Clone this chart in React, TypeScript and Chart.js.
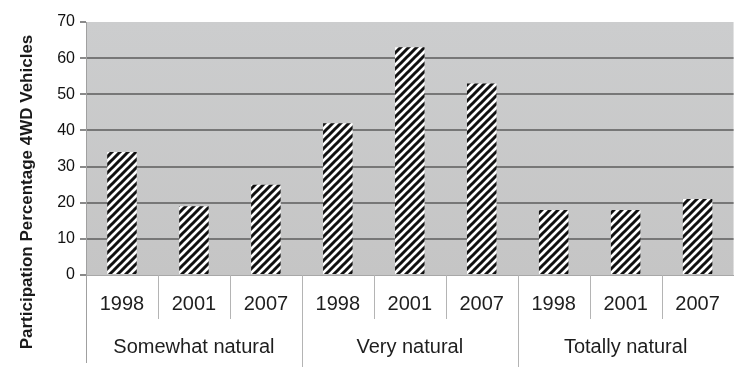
import { useEffect, useRef } from 'react';
import { Chart, registerables } from 'chart.js';

Chart.register(...registerables);

const groups = ['Somewhat natural', 'Very natural', 'Totally natural'];
const years = ['1998', '2001', '2007'];
const values = [34, 19, 25, 42, 63, 53, 18, 18, 21];
const yMin = 0;
const yMax = 70;
const yStep = 10;
const yTitle = 'Participation Percentage 4WD Vehicles';

const FONT = '"Liberation Sans", Arial, sans-serif';

function makeHatch(): CanvasPattern | string {
  const s = 8;
  const c = document.createElement('canvas');
  c.width = s;
  c.height = s;
  const g = c.getContext('2d');
  if (!g) return '#333';
  g.fillStyle = '#ffffff';
  g.fillRect(0, 0, s, s);
  g.strokeStyle = '#111111';
  g.lineWidth = 3;
  g.beginPath();
  g.moveTo(-s, 2 * s);
  g.lineTo(2 * s, -s);
  g.moveTo(-s, s);
  g.lineTo(s, -s);
  g.moveTo(0, 2 * s);
  g.lineTo(2 * s, 0);
  g.stroke();
  const p = g.createPattern(c, 'repeat');
  return p || '#333';
}

const decorPlugin = {
  id: 'decor',
  beforeDraw(chart: any) {
    const { ctx, chartArea } = chart;
    const { left, top, right, bottom } = chartArea;
    ctx.save();
    const grad = ctx.createLinearGradient(0, top, 0, bottom);
    grad.addColorStop(0, '#cccdce');
    grad.addColorStop(1, '#c5c5c5');
    ctx.fillStyle = grad;
    ctx.fillRect(left, top, right - left, bottom - top);
    ctx.restore();
  },
  afterDraw(chart: any) {
    const { ctx, chartArea } = chart;
    const xs = chart.scales.x;
    const { left, right, bottom } = chartArea;
    const n = values.length;
    const boundary = (i: number) => {
      if (i <= 0) return left;
      if (i >= n) return right;
      return (xs.getPixelForValue(i - 1) + xs.getPixelForValue(i)) / 2;
    };
    ctx.save();
    ctx.strokeStyle = '#b4b4b4';
    ctx.lineWidth = 1;
    for (let i = 1; i < n; i++) {
      const x = Math.round(boundary(i)) + 0.5;
      const isGroup = i % years.length === 0;
      ctx.beginPath();
      ctx.moveTo(x, bottom);
      ctx.lineTo(x, isGroup ? bottom + 92 : bottom + 44);
      ctx.stroke();
    }
    // left axis extension
    ctx.strokeStyle = '#a0a0a0';
    ctx.beginPath();
    ctx.moveTo(Math.round(left) + 0.5, bottom);
    ctx.lineTo(Math.round(left) + 0.5, bottom + 88);
    ctx.stroke();

    // group labels
    ctx.fillStyle = '#1e1e1e';
    ctx.font = `20px ${FONT}`;
    ctx.textAlign = 'center';
    ctx.textBaseline = 'middle';
    groups.forEach((g, gi) => {
      const a = xs.getPixelForValue(gi * years.length);
      const b = xs.getPixelForValue(gi * years.length + years.length - 1);
      ctx.fillText(g, (a + b) / 2, bottom + 72);
    });

    // y title
    ctx.translate(27, 192);
    ctx.rotate(-Math.PI / 2);
    ctx.font = `bold 17px ${FONT}`;
    ctx.fillStyle = '#1a1a1a';
    ctx.fillText(yTitle, 0, 0);
    ctx.restore();
  },
};

export default function App() {
  const ref = useRef<HTMLCanvasElement>(null);
  useEffect(() => {
    document.body.style.margin = '0';
    document.body.style.overflow = 'hidden';
    const canvas = ref.current;
    if (!canvas) return;
    const labels = groups.flatMap(() => years);
    const chart = new Chart(canvas, {
      type: 'bar',
      data: {
        labels,
        datasets: [
          {
            data: values,
            backgroundColor: makeHatch() as any,
            borderWidth: 0,
            barPercentage: 0.41,
            categoryPercentage: 1,
          },
        ],
      },
      options: {
        responsive: false,
        animation: false,
        layout: { padding: { top: 22, right: 3, left: 0, bottom: 0 } },
        plugins: {
          legend: { display: false },
          tooltip: { enabled: false },
        },
        scales: {
          x: {
            grid: { display: false, drawTicks: false },
            border: { display: true, color: '#a8a8a8' },
            ticks: {
              font: { size: 20, family: FONT },
              color: '#1e1e1e',
              padding: 17,
              maxRotation: 0,
              autoSkip: false,
            },
            afterFit: (s: any) => {
              s.height = 92;
            },
          },
          y: {
            min: yMin,
            max: yMax,
            ticks: {
              stepSize: yStep,
              font: { size: 16, family: FONT },
              color: '#111',
              padding: 5,
            },
            grid: {
              color: (c: any) =>
                c.tick && (c.tick.value === yMax || c.tick.value === yMin) ? 'rgba(0,0,0,0)' : '#777777',
              lineWidth: 2,
              tickLength: 6,
              tickColor: '#8a8a8a',
            },
            border: { display: true, color: '#a0a0a0' },
            afterFit: (s: any) => {
              s.width = 86;
            },
          },
        },
      },
      plugins: [decorPlugin],
    });
    return () => chart.destroy();
  }, []);
  return (
    <div style={{ width: 737, height: 367 }}>
      <canvas ref={ref} width={737} height={367} style={{ display: 'block' }} />
    </div>
  );
}
